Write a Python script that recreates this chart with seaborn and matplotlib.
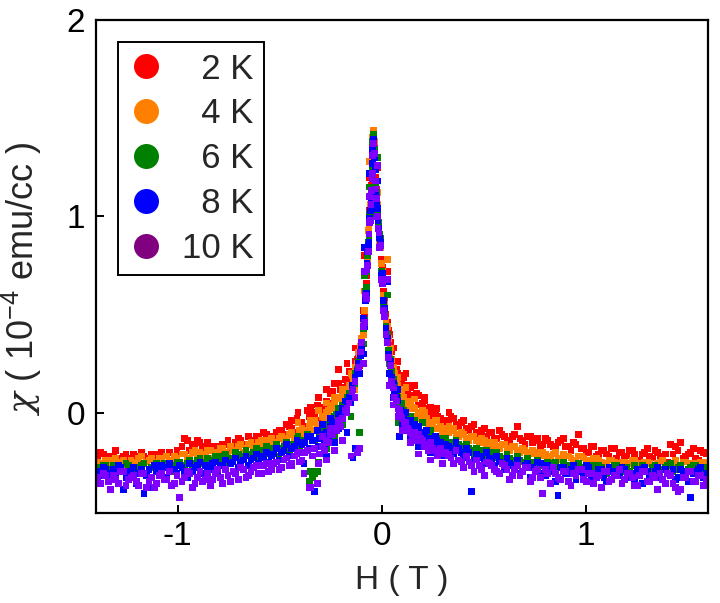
import matplotlib
matplotlib.use("Agg")
import matplotlib.pyplot as plt
from matplotlib.lines import Line2D
import seaborn as sns
import pandas as pd

# ---------------- data ----------------
# field values of the first sweep
H = [
    -1.39, -1.365, -1.34, -1.315, -1.29, -1.265, -1.24, -1.215, -1.19, -1.165,
    -1.14, -1.115, -1.09, -1.065, -1.04, -1.015, -0.99, -0.965, -0.94, -0.915,
    -0.89, -0.865, -0.84, -0.815, -0.79, -0.765, -0.74, -0.715, -0.69, -0.665,
    -0.64, -0.615, -0.59, -0.565, -0.54, -0.515, -0.49, -0.465, -0.44, -0.415,
    -0.39, -0.365, -0.34, -0.315, -0.29,
    -0.27, -0.25, -0.23, -0.21, -0.19, -0.175, -0.16, -0.145, -0.13, -0.115,
    -0.10, -0.09, -0.08, -0.072, -0.065, -0.058, -0.052, -0.047, -0.043,
    -0.04,
    -0.036, -0.031, -0.025, -0.018, -0.01, 0.0, 0.01, 0.022, 0.035, 0.05,
    0.065, 0.08, 0.095, 0.11, 0.125, 0.14, 0.16, 0.18, 0.20, 0.22, 0.24, 0.265, 0.29,
    0.315, 0.34, 0.365, 0.39, 0.415, 0.44, 0.465, 0.49, 0.515, 0.54,
    0.565, 0.59, 0.615, 0.64, 0.665, 0.69, 0.715, 0.74, 0.765, 0.79,
    0.815, 0.84, 0.865, 0.89, 0.915, 0.94, 0.965, 0.99, 1.015, 1.04,
    1.065, 1.09, 1.115, 1.14, 1.165, 1.19, 1.215, 1.24, 1.265, 1.29,
    1.315, 1.34, 1.365, 1.39, 1.415, 1.44, 1.465, 1.49, 1.515, 1.54,
    1.565, 1.59,
]

# field values of the second sweep
H2 = [
    -1.378, -1.353, -1.328, -1.303, -1.278, -1.253, -1.228, -1.203, -1.178, -1.153,
    -1.128, -1.103, -1.078, -1.053, -1.028, -1.003, -0.978, -0.953, -0.928, -0.903,
    -0.878, -0.853, -0.828, -0.803, -0.778, -0.753, -0.728, -0.703, -0.678, -0.653,
    -0.628, -0.603, -0.578, -0.553, -0.528, -0.503, -0.478, -0.453, -0.428, -0.403,
    -0.378, -0.353, -0.328, -0.303,
    -0.28, -0.26, -0.24, -0.22, -0.20, -0.17, -0.14, -0.12, -0.105, -0.085,
    -0.075, -0.068, -0.062, -0.055, -0.05, -0.045,
    -0.028, -0.02, -0.013, -0.005, 0.005, 0.015, 0.028, 0.042, 0.058, 0.072,
    0.088, 0.10, 0.118, 0.133, 0.15, 0.17, 0.19, 0.21, 0.23, 0.25, 0.275, 0.30,
    0.328, 0.353, 0.378, 0.403, 0.428, 0.453, 0.478, 0.503, 0.528, 0.553,
    0.578, 0.603, 0.628, 0.653, 0.678, 0.703, 0.728, 0.753, 0.778, 0.803,
    0.828, 0.853, 0.878, 0.903, 0.928, 0.953, 0.978, 1.003, 1.028, 1.053,
    1.078, 1.103, 1.128, 1.153, 1.178, 1.203, 1.228, 1.253, 1.278, 1.303,
    1.328, 1.353, 1.378, 1.403, 1.428, 1.453, 1.478, 1.503, 1.528, 1.553,
    1.578,
]

# field values of the scattered points around the central cusp
H3 = [
    -0.44, -0.41, -0.38, -0.35, -0.33, -0.31, -0.29, -0.27, -0.25, -0.23,
    -0.21, -0.19, -0.17, -0.15, -0.13, -0.11, -0.09,
    0.04, 0.06, 0.08, 0.10, 0.12, 0.14, 0.16, 0.18, 0.21, 0.24, 0.27, 0.30, 0.33,
    -0.085, -0.06, -0.02, 0.03,
]

# ---- 2 K ----
chi_2K = [
    -0.23, -0.21, -0.24, -0.22, -0.25, -0.22, -0.23, -0.21, -0.24, -0.22,
    -0.23, -0.21, -0.24, -0.22, -0.20, -0.23, -0.21, -0.13, -0.19, -0.16,
    -0.15, -0.17, -0.19, -0.17, -0.20, -0.16, -0.18, -0.15, -0.14, -0.17,
    -0.14, -0.12, -0.15, -0.11, -0.13, -0.10, -0.09, -0.06, -0.08, -0.03,
    -0.05, 0.01, -0.02, 0.04, 0.03,
    0.06, 0.10, 0.08, 0.15, 0.13, 0.17, 0.21, 0.18, 0.26, 0.29,
    0.37, 0.47, 0.62, 0.70, 0.86, 1.03, 1.08, 1.23, 1.37,
    1.40,
    1.36, 1.20, 1.14, 0.97, 0.90, 0.78, 0.62, 0.50, 0.42, 0.31,
    0.26, 0.20, 0.17, 0.18, 0.12, 0.13, 0.07, 0.09, 0.05, 0.02, 0.03, -0.01, -0.03,
    -0.04, -0.02, -0.06, -0.05, -0.08, -0.07, -0.10, -0.09, -0.12, -0.10,
    -0.13, -0.11, -0.14, -0.12, -0.07, -0.14, -0.12, -0.15, -0.13, -0.16,
    -0.14, -0.17, -0.15, -0.13, -0.17, -0.15, -0.11, -0.18, -0.20, -0.17,
    -0.21, -0.19, -0.22, -0.18, -0.20, -0.23, -0.19, -0.21, -0.24, -0.20,
    -0.22, -0.19, -0.23, -0.21, -0.16, -0.17, -0.15, -0.22, -0.20, -0.23,
    -0.19, -0.21,
]
chi2_2K = [
    -0.20, -0.24, -0.22, -0.19, -0.23, -0.21, -0.25, -0.22, -0.20, -0.24,
    -0.21, -0.23, -0.20, -0.22, -0.24, -0.19, -0.17, -0.14, -0.16, -0.14,
    -0.18, -0.15, -0.17, -0.19, -0.16, -0.14, -0.17, -0.13, -0.16, -0.12,
    -0.15, -0.13, -0.10, -0.14, -0.12, -0.09, -0.11, -0.07, -0.10, -0.05,
    -0.07, -0.02, 0.00, -0.04,
    0.02, 0.05, 0.11, 0.07, 0.12, 0.16, 0.20, 0.27, 0.33, 0.50,
    0.66, 0.80, 0.92, 1.04, 1.16, 1.28,
    1.18, 1.05, 0.93, 0.86, 0.74, 0.58, 0.46, 0.36, 0.24, 0.22,
    0.15, 0.19, 0.10, 0.14, 0.08, 0.10, 0.04, 0.06, 0.00, 0.01, -0.02, -0.05,
    -0.05, -0.03, -0.07, -0.04, -0.09, -0.06, -0.11, -0.08, -0.10, -0.13,
    -0.09, -0.12, -0.15, -0.11, -0.13, -0.16, -0.12, -0.14, -0.17, -0.13,
    -0.16, -0.18, -0.14, -0.17, -0.19, -0.16, -0.18, -0.20, -0.17, -0.22,
    -0.19, -0.21, -0.18, -0.23, -0.20, -0.22, -0.19, -0.24, -0.21, -0.18,
    -0.23, -0.20, -0.22, -0.25, -0.21, -0.19, -0.23, -0.21, -0.18, -0.24,
    -0.20,
]
chi3_2K = [
    -0.04, 0.00, -0.07, 0.03, -0.03, 0.08, 0.00, 0.12, 0.04, 0.15,
    0.22, 0.09, 0.25, 0.14, 0.33, 0.24, 0.52,
    0.40, 0.33, 0.26, 0.15, 0.20, 0.09, 0.14, 0.04, 0.08, -0.03, 0.02, -0.06, 0.00,
    0.80, 1.20, 1.25, 0.72,
]

# ---- 4 K ----
chi_4K = [
    -0.25, -0.26, -0.24, -0.25, -0.27, -0.24, -0.26, -0.25, -0.23, -0.26,
    -0.24, -0.25, -0.23, -0.26, -0.24, -0.22, -0.25, -0.21, -0.23, -0.19,
    -0.20, -0.22, -0.19, -0.21, -0.18, -0.20, -0.17, -0.19, -0.16, -0.18,
    -0.15, -0.17, -0.14, -0.16, -0.13, -0.15, -0.12, -0.13, -0.10, -0.12,
    -0.08, -0.09, -0.05, -0.06, -0.02,
    0.00, 0.02, 0.05, 0.07, 0.10, 0.12, 0.14, 0.19, 0.23, 0.31,
    0.38, 0.46, 0.58, 0.76, 0.93, 0.97, 1.14, 1.25, 1.40,
    1.44,
    1.38, 1.25, 1.08, 1.02, 0.86, 0.76, 0.60, 0.47, 0.38, 0.27,
    0.20, 0.14, 0.10, 0.08, 0.05, 0.06, 0.02, 0.00, 0.01, -0.03, -0.05, -0.04, -0.07,
    -0.08, -0.09, -0.11, -0.10, -0.13, -0.12, -0.14, -0.13, -0.16, -0.15,
    -0.17, -0.16, -0.18, -0.17, -0.19, -0.18, -0.20, -0.19, -0.21, -0.20,
    -0.22, -0.21, -0.23, -0.21, -0.22, -0.24, -0.22, -0.23, -0.25, -0.23,
    -0.24, -0.26, -0.24, -0.25, -0.27, -0.25, -0.26, -0.24, -0.27, -0.25,
    -0.26, -0.28, -0.25, -0.27, -0.26, -0.24, -0.27, -0.25, -0.26, -0.28,
    -0.25, -0.26,
]
chi2_4K = [
    -0.27, -0.24, -0.26, -0.23, -0.25, -0.27, -0.24, -0.26, -0.22, -0.25,
    -0.23, -0.26, -0.24, -0.22, -0.25, -0.23, -0.21, -0.24, -0.20, -0.22,
    -0.21, -0.19, -0.23, -0.20, -0.18, -0.21, -0.19, -0.17, -0.20, -0.16,
    -0.18, -0.15, -0.17, -0.14, -0.16, -0.13, -0.15, -0.11, -0.13, -0.09,
    -0.11, -0.07, -0.04, -0.08,
    -0.03, 0.01, 0.04, 0.02, 0.08, 0.09, 0.16, 0.25, 0.34, 0.52,
    0.60, 0.77, 0.95, 1.06, 1.10, 1.29,
    1.13, 1.06, 0.96, 0.84, 0.72, 0.55, 0.44, 0.33, 0.23, 0.16,
    0.12, 0.07, 0.06, 0.02, 0.03, -0.02, -0.01, -0.04, -0.06, -0.05, -0.08, -0.09,
    -0.10, -0.08, -0.12, -0.11, -0.14, -0.12, -0.15, -0.14, -0.17, -0.15,
    -0.18, -0.16, -0.19, -0.17, -0.20, -0.19, -0.21, -0.20, -0.22, -0.21,
    -0.23, -0.20, -0.24, -0.22, -0.23, -0.25, -0.22, -0.24, -0.26, -0.23,
    -0.25, -0.27, -0.24, -0.26, -0.25, -0.27, -0.24, -0.26, -0.28, -0.25,
    -0.27, -0.26, -0.24, -0.28, -0.26, -0.27, -0.25, -0.29, -0.26, -0.27,
    -0.25,
]
chi3_4K = [
    -0.10, -0.05, -0.12, -0.04, -0.09, 0.01, -0.06, 0.05, -0.02, 0.08,
    0.02, 0.12, 0.06, 0.20, 0.12, 0.30, 0.40,
    0.30, 0.22, 0.18, 0.10, 0.13, 0.03, 0.07, -0.03, 0.00, -0.08, -0.04, -0.11, -0.07,
    0.62, 1.28, 1.12, 0.78,
]

# ---- 6 K ----
chi_6K = [
    -0.28, -0.27, -0.29, -0.27, -0.28, -0.30, -0.27, -0.29, -0.28, -0.26,
    -0.29, -0.27, -0.28, -0.26, -0.28, -0.27, -0.25, -0.27, -0.24, -0.26,
    -0.23, -0.25, -0.24, -0.22, -0.24, -0.21, -0.23, -0.20, -0.22, -0.19,
    -0.21, -0.18, -0.20, -0.17, -0.19, -0.16, -0.18, -0.15, -0.17, -0.13,
    -0.15, -0.11, -0.33, -0.30, -0.08,
    -0.07, -0.05, -0.02, 0.01, 0.04, 0.05, 0.10, 0.13, 0.20, 0.26,
    0.35, 0.43, 0.62, 0.72, 0.87, 1.01, 1.12, 1.20, 1.38,
    1.42,
    1.34, 1.26, 1.12, 0.96, 0.91, 0.72, 0.55, 0.44, 0.32, 0.21,
    0.14, 0.08, 0.05, 0.01, -0.02, -0.05, -0.04, -0.08, -0.05, -0.10, -0.09, -0.12, -0.13,
    -0.13, -0.15, -0.14, -0.17, -0.16, -0.19, -0.18, -0.21, -0.19, -0.22,
    -0.20, -0.23, -0.21, -0.24, -0.22, -0.25, -0.23, -0.26, -0.24, -0.27,
    -0.25, -0.26, -0.28, -0.25, -0.27, -0.29, -0.26, -0.28, -0.27, -0.29,
    -0.27, -0.30, -0.28, -0.27, -0.29, -0.28, -0.30, -0.27, -0.29, -0.28,
    -0.30, -0.27, -0.29, -0.28, -0.26, -0.29, -0.27, -0.30, -0.28, -0.27,
    -0.29, -0.28,
]
chi2_6K = [
    -0.30, -0.27, -0.29, -0.31, -0.28, -0.26, -0.30, -0.28, -0.27, -0.31,
    -0.28, -0.26, -0.29, -0.27, -0.30, -0.25, -0.28, -0.26, -0.29, -0.24,
    -0.26, -0.23, -0.27, -0.25, -0.22, -0.26, -0.23, -0.21, -0.24, -0.22,
    -0.20, -0.23, -0.19, -0.21, -0.18, -0.22, -0.17, -0.19, -0.16, -0.18,
    -0.14, -0.35, -0.31, -0.12,
    -0.12, -0.06, -0.09, -0.01, -0.04, 0.04, 0.14, 0.22, 0.30, 0.47,
    0.64, 0.80, 0.89, 1.00, 1.15, 1.24,
    1.16, 1.01, 0.97, 0.89, 0.68, 0.50, 0.40, 0.27, 0.17, 0.10,
    0.04, 0.02, -0.03, -0.06, -0.05, -0.09, -0.11, -0.10, -0.13, -0.12, -0.15, -0.16,
    -0.15, -0.17, -0.16, -0.19, -0.18, -0.21, -0.19, -0.22, -0.20, -0.23,
    -0.22, -0.25, -0.23, -0.26, -0.24, -0.27, -0.25, -0.28, -0.26, -0.29,
    -0.27, -0.25, -0.28, -0.30, -0.27, -0.29, -0.28, -0.31, -0.27, -0.30,
    -0.28, -0.31, -0.29, -0.27, -0.30, -0.28, -0.31, -0.29, -0.27, -0.30,
    -0.28, -0.32, -0.29, -0.27, -0.30, -0.28, -0.31, -0.29, -0.27, -0.30,
    -0.28,
]
chi3_6K = [
    -0.16, -0.12, -0.20, -0.30, -0.14, -0.25, -0.08, -0.18, -0.04, -0.12,
    0.02, -0.06, 0.08, -0.02, 0.15, -0.10, 0.35,
    0.25, 0.16, -0.05, 0.05, -0.08, -0.02, -0.12, -0.07, -0.15, -0.10, -0.18, -0.13, -0.20,
    0.70, 1.15, 1.30, 0.60,
]

# ---- 8 K ----
chi_8K = [
    -0.30, -0.28, -0.31, -0.29, -0.27, -0.39, -0.30, -0.28, -0.31, -0.41,
    -0.29, -0.27, -0.30, -0.28, -0.26, -0.29, -0.27, -0.30, -0.26, -0.28,
    -0.25, -0.27, -0.29, -0.25, -0.27, -0.24, -0.26, -0.23, -0.25, -0.22,
    -0.24, -0.21, -0.23, -0.20, -0.22, -0.18, -0.20, -0.16, -0.18, -0.14,
    -0.16, -0.12, -0.14, -0.09, -0.11,
    -0.10, -0.07, -0.05, -0.01, 0.02, 0.06, 0.08, 0.14, 0.18, 0.25,
    0.33, 0.48, 0.57, 0.76, 0.85, 0.99, 1.09, 1.21, 1.34,
    1.39,
    1.30, 1.24, 1.06, 0.98, 0.89, 0.70, 0.57, 0.43, 0.30, 0.18,
    0.10, 0.06, 0.01, -0.01, -0.05, -0.04, -0.08, -0.07, -0.10, -0.09, -0.13, -0.12, -0.15,
    -0.16, -0.18, -0.15, -0.20, -0.18, -0.40, -0.21, -0.23, -0.20, -0.25,
    -0.22, -0.26, -0.23, -0.27, -0.24, -0.30, -0.26, -0.28, -0.25, -0.31,
    -0.27, -0.29, -0.42, -0.28, -0.31, -0.27, -0.30, -0.32, -0.28, -0.31,
    -0.29, -0.33, -0.28, -0.30, -0.32, -0.29, -0.31, -0.34, -0.30, -0.28,
    -0.32, -0.30, -0.33, -0.29, -0.31, -0.34, -0.29, -0.32, -0.43, -0.30,
    -0.28, -0.31,
]
chi2_8K = [
    -0.32, -0.29, -0.34, -0.31, -0.28, -0.33, -0.30, -0.36, -0.29, -0.32,
    -0.38, -0.30, -0.27, -0.33, -0.29, -0.31, -0.28, -0.33, -0.30, -0.27,
    -0.31, -0.28, -0.26, -0.30, -0.27, -0.32, -0.25, -0.28, -0.24, -0.27,
    -0.23, -0.26, -0.22, -0.25, -0.21, -0.24, -0.19, -0.22, -0.17, -0.20,
    -0.15, -0.18, -0.40, -0.13,
    -0.16, -0.12, -0.05, -0.08, -0.02, 0.03, -0.23, 0.21, 0.29, 0.44,
    0.61, 0.82, 0.87, 1.03, 1.12, 1.27,
    1.12, 1.04, 0.94, 0.87, 0.71, 0.53, 0.38, 0.26, 0.15, 0.08,
    -0.12, 0.00, -0.04, -0.07, -0.09, -0.08, -0.12, -0.14, -0.13, -0.17, -0.16, -0.19,
    -0.19, -0.21, -0.18, -0.23, -0.20, -0.24, -0.22, -0.26, -0.23, -0.27,
    -0.25, -0.29, -0.26, -0.28, -0.31, -0.27, -0.33, -0.29, -0.26, -0.32,
    -0.30, -0.35, -0.28, -0.31, -0.29, -0.34, -0.30, -0.27, -0.33, -0.31,
    -0.29, -0.35, -0.30, -0.32, -0.28, -0.33, -0.31, -0.29, -0.36, -0.30,
    -0.32, -0.28, -0.34, -0.31, -0.29, -0.33, -0.30, -0.35, -0.31, -0.29,
    -0.33,
]
chi3_8K = [
    -0.22, -0.15, -0.26, -0.12, -0.40, -0.17, -0.06, -0.22, -0.03, -0.15,
    -0.08, 0.01, -0.10, 0.05, -0.18, 0.20, 0.30,
    0.20, 0.08, 0.12, -0.06, 0.00, -0.12, -0.06, -0.17, -0.11, -0.20, -0.14, -0.22, -0.17,
    0.84, 1.22, 1.18, 0.67,
]

# ---- 10 K ----
chi_10K = [
    -0.33, -0.31, -0.35, -0.32, -0.36, -0.30, -0.34, -0.32, -0.37, -0.31,
    -0.35, -0.38, -0.32, -0.34, -0.30, -0.36, -0.43, -0.33, -0.31, -0.36,
    -0.30, -0.34, -0.37, -0.31, -0.33, -0.29, -0.35, -0.31, -0.28, -0.33,
    -0.30, -0.27, -0.31, -0.26, -0.29, -0.25, -0.28, -0.23, -0.26, -0.21,
    -0.24, -0.19, -0.22, -0.36, -0.17,
    -0.14, -0.11, -0.08, -0.06, -0.03, 0.01, 0.05, 0.11, 0.16, 0.23,
    0.36, 0.44, 0.60, 0.73, 0.82, 0.97, 1.06, 1.19, 1.31,
    1.37,
    1.32, 1.18, 1.09, 0.94, 0.84, 0.68, 0.52, 0.40, 0.28, 0.16,
    0.08, 0.02, -0.02, -0.05, -0.08, -0.10, -0.12, -0.11, -0.14, -0.16, -0.15, -0.19, -0.18,
    -0.20, -0.23, -0.19, -0.25, -0.22, -0.27, -0.24, -0.29, -0.25, -0.27,
    -0.30, -0.26, -0.29, -0.32, -0.27, -0.30, -0.28, -0.33, -0.29, -0.41,
    -0.31, -0.28, -0.33, -0.30, -0.35, -0.31, -0.29, -0.34, -0.31, -0.36,
    -0.32, -0.30, -0.35, -0.32, -0.29, -0.34, -0.31, -0.37, -0.32, -0.30,
    -0.35, -0.33, -0.31, -0.36, -0.32, -0.38, -0.39, -0.33, -0.30, -0.35,
    -0.32, -0.34,
]
chi2_10K = [
    -0.36, -0.32, -0.39, -0.34, -0.30, -0.37, -0.33, -0.35, -0.31, -0.38,
    -0.33, -0.36, -0.31, -0.34, -0.37, -0.32, -0.35, -0.30, -0.38, -0.33,
    -0.35, -0.31, -0.34, -0.29, -0.36, -0.32, -0.30, -0.34, -0.29, -0.32,
    -0.28, -0.31, -0.27, -0.30, -0.26, -0.29, -0.24, -0.27, -0.22, -0.25,
    -0.20, -0.38, -0.18, -0.21,
    -0.19, -0.15, -0.11, -0.09, -0.07, 0.00, 0.12, -0.20, 0.31, 0.46,
    0.58, 0.75, 0.91, 0.98, 1.13, 1.22,
    1.14, 1.00, 0.92, 0.85, 0.66, 0.49, 0.36, 0.24, 0.13, 0.06,
    0.01, -0.03, -0.07, -0.09, -0.12, -0.14, -0.13, -0.17, -0.19, -0.18, -0.22, -0.21,
    -0.22, -0.26, -0.24, -0.28, -0.25, -0.30, -0.27, -0.32, -0.26, -0.29,
    -0.31, -0.27, -0.34, -0.29, -0.32, -0.28, -0.35, -0.30, -0.33, -0.29,
    -0.36, -0.31, -0.34, -0.30, -0.37, -0.32, -0.29, -0.35, -0.31, -0.33,
    -0.38, -0.30, -0.34, -0.32, -0.36, -0.31, -0.33, -0.37, -0.30, -0.35,
    -0.32, -0.39, -0.34, -0.31, -0.36, -0.40, -0.33, -0.30, -0.35, -0.32,
    -0.37,
]
chi3_10K = [
    -0.27, -0.20, -0.31, -0.38, -0.18, -0.26, -0.12, -0.24, -0.08, -0.19,
    -0.04, -0.14, 0.02, -0.22, 0.08, -0.18, 0.25,
    0.14, 0.04, -0.02, -0.09, -0.05, -0.15, -0.10, -0.21, -0.16, -0.24, -0.19, -0.26, -0.21,
    0.72, 1.10, 1.26, 0.68,
]

temps = ["2 K", "4 K", "6 K", "8 K", "10 K"]
sweep1 = [chi_2K, chi_4K, chi_6K, chi_8K, chi_10K]
sweep2 = [chi2_2K, chi2_4K, chi2_6K, chi2_8K, chi2_10K]
sweep3 = [chi3_2K, chi3_4K, chi3_6K, chi3_8K, chi3_10K]
point_colors = ["#ff0000", "#ff8000", "#008000", "#0000ff", "#8000ff"]
legend_colors = ["#ff0000", "#ff8000", "#008000", "#0000ff", "#800080"]

frames = []
for t, y1, y2, y3 in zip(temps, sweep1, sweep2, sweep3):
    frames.append(pd.DataFrame({"H": H, "chi": y1, "T": t}))
    frames.append(pd.DataFrame({"H": H2, "chi": y2, "T": t}))
    frames.append(pd.DataFrame({"H": H3, "chi": y3, "T": t}))
df = pd.concat(frames, ignore_index=True)

# ---------------- style ----------------
sns.set_theme(style="white")
plt.rcParams["font.family"] = ["Liberation Sans", "DejaVu Sans"]
plt.rcParams["mathtext.fontset"] = "custom"
plt.rcParams["mathtext.rm"] = "Liberation Sans"
plt.rcParams["mathtext.it"] = "DejaVu Serif:italic"

fig = plt.figure(figsize=(7.2, 6.03), dpi=100)
ax = fig.add_axes([96 / 720, 90 / 603, 612 / 720, 493 / 603])

sns.scatterplot(
    data=df, x="H", y="chi", hue="T", hue_order=temps,
    palette=dict(zip(temps, point_colors)),
    marker="s", s=24, linewidth=0, legend=False, ax=ax,
)

ax.set_xlim(-1.4, 1.6)
ax.set_ylim(-0.51, 2.0)
ax.set_xticks([-1, 0, 1])
ax.set_xticklabels(["-1", "0", "1"])
ax.set_yticks([0, 1, 2])
ax.set_yticklabels(["0", "1", "2"])

for sp in ax.spines.values():
    sp.set_visible(True)
    sp.set_color("black")
    sp.set_linewidth(1.6)

ax.tick_params(axis="both", which="major", direction="in", length=6, width=1.4,
               labelsize=24, colors="black", top=False, right=False,
               left=True, bottom=True)
ax.tick_params(axis="x", pad=6)
ax.tick_params(axis="y", pad=8)

ax.set_xlabel("H ( T )", fontsize=24, labelpad=9)
ax.set_ylabel(r"$\chi$ ( $\mathregular{10^{-4}}$ emu/cc )", fontsize=26)
ax.yaxis.set_label_coords(-0.085, 0.475)

handles = [Line2D([], [], marker="o", ls="", markersize=18, color=c,
                  markeredgewidth=0) for c in legend_colors]
labels = ["  2 K", "  4 K", "  6 K", "  8 K", "10 K"]
leg = ax.legend(handles, labels, loc="upper left", bbox_to_anchor=(0.036, 0.955),
                borderaxespad=0, fontsize=25, frameon=True, fancybox=False,
                edgecolor="black", framealpha=1, labelspacing=0.34,
                handlelength=1.0, handletextpad=0.55, borderpad=0.3)
leg.get_frame().set_linewidth(1.4)

fig.savefig("out.png", dpi=100)
